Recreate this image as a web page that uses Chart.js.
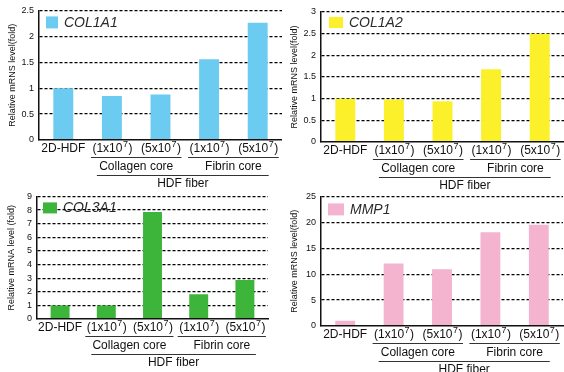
<!DOCTYPE html>
<html><head><meta charset="utf-8">
<script src="https://cdn.jsdelivr.net/npm/chart.js@4"></script>
<style>
html,body{margin:0;padding:0;background:#fff;width:564px;height:372px;overflow:hidden;position:relative}
.p{position:absolute}
</style></head><body>
<div class="p" style="left:0;top:0;width:282px;height:195px"><canvas id="c1"></canvas></div>
<div class="p" style="left:282px;top:0;width:282px;height:195px"><canvas id="c2"></canvas></div>
<div class="p" style="left:0;top:186px;width:282px;height:186px"><canvas id="c3"></canvas></div>
<div class="p" style="left:282px;top:186px;width:282px;height:186px"><canvas id="c4"></canvas></div>
<script>
// ---- data ----
const categories = ['2D-HDF', '(1x10^7)', '(5x10^7)', '(1x10^7)', '(5x10^7)'];
const groupLabels = ['Collagen core', 'Fibrin core'];
const superGroupLabel = 'HDF fiber';
const col1a1Values = [1.0, 0.85, 0.88, 1.56, 2.26];
const col1a2Values = [1.0, 0.98, 0.94, 1.68, 2.5];
const col3a1Values = [1.0, 1.0, 7.85, 1.82, 2.87];
const mmp1Values = [1.0, 12.05, 10.96, 18.1, 19.55];
const col1a1Ticks = [0, 0.5, 1, 1.5, 2, 2.5];
const col1a2Ticks = [0, 0.5, 1, 1.5, 2, 2.5, 3];
const col3a1Ticks = [0, 1, 2, 3, 4, 5, 6, 7, 8, 9];
const mmp1Ticks = [0, 5, 10, 15, 20, 25];
const titleMRNS = 'Relative mRNS level(fold)';
const titleMRNA = 'Relative mRNA level (fold)';

const FONT = '"Liberation Sans", Arial, Helvetica, sans-serif';
const INK = '#111';

function drawSupLabel(ctx, text, cx, cy) {
  const m = text.match(/^(.*)\^(\w+)(.*)$/);
  ctx.textBaseline = 'middle';
  if (!m) { ctx.font = '12px ' + FONT; ctx.textAlign = 'center'; ctx.fillText(text, cx, cy); return; }
  ctx.font = '12px ' + FONT;
  const w1 = ctx.measureText(m[1]).width, w3 = ctx.measureText(m[3]).width;
  ctx.font = '9px ' + FONT;
  const w2 = ctx.measureText(m[2]).width;
  let x = cx - (w1 + w2 + w3) / 2;
  ctx.textAlign = 'left';
  ctx.font = '12px ' + FONT; ctx.fillText(m[1], x, cy); x += w1;
  ctx.font = '9px ' + FONT; ctx.fillText(m[2], x + 0.5, cy - 4); x += w2 + 1;
  ctx.font = '12px ' + FONT; ctx.fillText(m[3], x, cy);
}

function hline(ctx, x1, x2, y) {
  ctx.beginPath(); ctx.moveTo(x1, y + 0.5); ctx.lineTo(x2, y + 0.5); ctx.stroke();
}

const panelPlugin = {
  id: 'panel',
  beforeDraw(chart, args, o) {
    const ctx = chart.ctx, a = chart.chartArea;
    ctx.save();
    ctx.font = 'italic 14px ' + FONT;
    ctx.fillStyle = '#2a2a2a';
    ctx.textBaseline = 'middle'; ctx.textAlign = 'left';
    ctx.fillText(chart.data.datasets[0].label, a.left + o.lx + o.bw + 6, a.top + o.ly + o.bh / 2 + 0.5);
    ctx.restore();
  },
  afterDraw(chart, args, o) {
    const ctx = chart.ctx, a = chart.chartArea, xs = chart.scales.x;
    ctx.save();
    // legend box
    ctx.fillStyle = chart.data.datasets[0].backgroundColor;
    ctx.fillRect(a.left + o.lx, a.top + o.ly, o.bw, o.bh);
    // y title
    ctx.save();
    ctx.translate(o.tx, (a.top + a.bottom) / 2);
    ctx.rotate(-Math.PI / 2);
    ctx.font = '9px ' + FONT; ctx.fillStyle = INK;
    ctx.textAlign = 'center'; ctx.textBaseline = 'middle';
    ctx.fillText(o.title, 0, 0);
    ctx.restore();
    // category labels
    ctx.fillStyle = INK;
    const y0 = a.bottom;
    const px = chart.data.labels.map((_, i) => xs.getPixelForValue(i));
    chart.data.labels.forEach((lab, i) => drawSupLabel(ctx, lab, px[i], y0 + 9));
    ctx.strokeStyle = '#333'; ctx.lineWidth = 1;
    const g1 = [px[1] - 21, px[2] + 21], g2 = [px[3] - 21, px[4] + 21];
    hline(ctx, g1[0], g1[1], Math.round(y0 + 17));
    hline(ctx, g2[0], g2[1], Math.round(y0 + 17));
    ctx.font = '12px ' + FONT; ctx.textAlign = 'center'; ctx.textBaseline = 'middle';
    ctx.fillText(groupLabels[0], (g1[0] + g1[1]) / 2, y0 + 26.5);
    ctx.fillText(groupLabels[1], (g2[0] + g2[1]) / 2, y0 + 26.5);
    const s1 = px[1] - 15, s2 = px[4] + 11;
    hline(ctx, s1, s2, Math.round(y0 + 34.5));
    ctx.fillText(superGroupLabel, (s1 + s2) / 2, y0 + 43.5);
    ctx.restore();
  }
};

function makeChart(id, label, values, ticks, color, o) {
  new Chart(document.getElementById(id), {
    type: 'bar',
    data: {
      labels: categories,
      datasets: [{ label, data: values, backgroundColor: color, borderWidth: 0, barPercentage: 0.41, categoryPercentage: 1 }]
    },
    options: {
      responsive: true, maintainAspectRatio: false, animation: false, devicePixelRatio: 1,
      layout: { padding: { top: o.top, right: o.right, left: 0, bottom: 0 } },
      plugins: {
        legend: { display: false }, tooltip: { enabled: false },
        panel: { title: o.title, tx: o.tx, lx: o.lx, ly: o.ly, bw: o.bw, bh: o.bh }
      },
      scales: {
        x: {
          ticks: { display: false },
          grid: { display: false },
          border: { display: true, color: INK, width: 1.5, z: 1 },
          afterFit(s) { s.height = o.xh; }
        },
        y: {
          min: 0, max: ticks[ticks.length - 1],
          afterBuildTicks(s) { s.ticks = ticks.map(v => ({ value: v })); },
          ticks: { font: { size: 9, family: FONT }, color: INK, padding: 5, autoSkip: false, callback: v => String(v) },
          grid: { drawTicks: false, lineWidth: 1.2, color: c => (c.tick && c.tick.value === 0) ? 'rgba(0,0,0,0)' : '#000' },
          border: { display: true, color: INK, width: 1.5, dash: [3, 2], z: 1 },
          afterFit(s) { s.width = o.yw; }
        }
      }
    },
    plugins: [panelPlugin]
  });
}

makeChart('c1', 'COL1A1', col1a1Values, col1a1Ticks, '#6ccbf1',
  { top: 10, right: 0, yw: 39, xh: 55, title: titleMRNS, tx: 12.5, lx: 7, ly: 6, bw: 12, bh: 12 });
makeChart('c2', 'COL1A2', col1a2Values, col1a2Ticks, '#fcf02a',
  { top: 12, right: 0, yw: 39, xh: 53, title: titleMRNS, tx: 13, lx: 8, ly: 5, bw: 14, bh: 11 });
makeChart('c3', 'COL3A1', col3a1Values, col3a1Ticks, '#3db53a',
  { top: 10, right: 14, yw: 37, xh: 53, title: titleMRNA, tx: 12, lx: 6, ly: 6, bw: 14, bh: 11 });
makeChart('c4', 'MMP1', mmp1Values, mmp1Ticks, '#f4b3cf',
  { top: 10, right: 1, yw: 39, xh: 46, title: titleMRNS, tx: 13, lx: 7, ly: 7, bw: 16, bh: 12 });
</script>
</body></html>
